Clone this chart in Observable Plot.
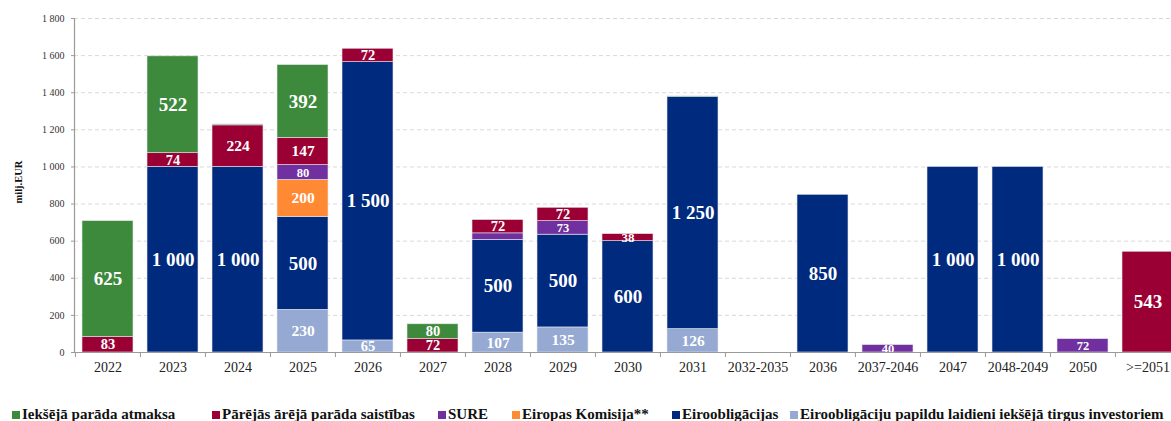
<!DOCTYPE html>
<html>
<head>
<meta charset="utf-8">
<script src="https://cdn.jsdelivr.net/npm/d3@7"></script>
<script src="https://cdn.jsdelivr.net/npm/@observablehq/plot@0.6"></script>
<style>
  html, body { margin: 0; padding: 0; background: #fff; overflow: hidden; }
  #wrap { position: relative; width: 1171px; height: 421px; overflow: hidden; }
  #legend { position: absolute; left: 0; top: 406px; width: 1171px; height: 16px;
            font-family: "Liberation Serif", "Times New Roman", serif; font-weight: bold; font-size: 15px;
            color: #111; }
  .item { position: absolute; top: 0; white-space: nowrap; line-height: 16px; }
  .sw { display: inline-block; width: 8px; height: 8px; margin-right: 2px; vertical-align: 0px; }
</style>
</head>
<body>
<div id="wrap"><div id="chart"></div><div id="legend"></div></div>
<script>
// ---- data ----
const categories = ["2022","2023","2024","2025","2026","2027","2028","2029","2030","2031","2032-2035","2036","2037-2046","2047","2048-2049","2050",">=2051"];
const seriesNames = [
  "Eiroobligāciju papildu laidieni iekšējā tirgus investoriem",
  "Eiroobligācijas",
  "Eiropas Komisija**",
  "SURE",
  "Pārējās ārējā parāda saistības",
  "Iekšējā parāda atmaksa"
];
const eiroPapildu = [0, 0, 0, 230, 65, 0, 107, 135, 0, 126, 0, 0, 0, 0, 0, 0, 0];
const eiroobligacijas = [0, 1000, 1000, 500, 1500, 0, 500, 500, 600, 1250, 0, 850, 0, 1000, 1000, 0, 0];
const eiropasKomisija = [0, 0, 0, 200, 0, 0, 0, 0, 0, 0, 0, 0, 0, 0, 0, 0, 0];
const sure = [0, 0, 0, 80, 0, 0, 35, 73, 0, 0, 0, 0, 40, 0, 0, 72, 0];
const parejasArejas = [83, 74, 224, 147, 72, 72, 72, 72, 38, 0, 0, 0, 0, 0, 0, 0, 543];
const ieksejaisParads = [625, 522, 5, 392, 0, 80, 0, 0, 0, 4, 0, 0, 0, 0, 0, 0, 0];
const yTicks = [0, 200, 400, 600, 800, 1000, 1200, 1400, 1600, 1800];
const yTitle = "milj.EUR";

// ---- styles ----
const colors = ["#95a9d2", "#002a7e", "#ff8a33", "#7030a0", "#9a0033", "#3e8a3c"];
const legendOrder = [5, 4, 3, 2, 1, 0];
const legendLeft = [12, 212, 438, 512, 672, 790];

// ---- build stacked table ----
const seriesValues = [eiroPapildu, eiroobligacijas, eiropasKomisija, sure, parejasArejas, ieksejaisParads];
const rows = [];
categories.forEach((c, i) => {
  let base = 0;
  seriesValues.forEach((vals, s) => {
    const v = vals[i];
    if (v > 0) {
      rows.push({cat: c, series: seriesNames[s], v, y1: base, y2: base + v, mid: base + v / 2});
      base += v;
    }
  });
});

const loc = d3.formatLocale({decimal: ",", thousands: "\u00a0", grouping: [3], currency: ["", ""]});
const fmt = loc.format(",d");

const W = 1171, H = 388, mL = 74, mR = -10, mT = 18, mB = 36;
const step = (W - mL - mR) / categories.length;

function labelSize(d) {
  if (d.series === "SURE") return 12.5;
  if (d.v >= 300) return 19;
  if (d.v >= 100) return 15.5;
  if (d.v >= 60) return 14.5;
  return 13;
}

const serif = "Liberation Serif, Times New Roman, serif";

const chart = Plot.plot({
  width: W, height: H,
  marginLeft: mL, marginRight: mR, marginTop: mT, marginBottom: mB,
  style: {fontFamily: serif, background: "white"},
  x: {domain: categories, paddingInner: 0.22, paddingOuter: 0.11, label: null},
  y: {domain: [0, 1800], label: null},
  color: {domain: seriesNames, range: colors},
  marks: [
    Plot.ruleY(yTicks.filter(d => d > 0), {y: d => d, stroke: "#d9d9d9", strokeDasharray: "4,3", strokeWidth: 1}),
    Plot.rectY(rows, {x: "cat", y1: "y1", y2: "y2", fill: "series", stroke: "#e6e6ee", strokeWidth: 0.6}),
    Plot.text(rows.filter(d => d.v >= 38), {
      x: "cat", y: "mid", text: d => fmt(d.v), fill: "white",
      fontWeight: "bold", fontSize: labelSize, fontFamily: serif
    }),
    Plot.ruleY([0], {stroke: "#9a9a9a", strokeWidth: 1.2}),
    Plot.frame({anchor: "left", stroke: "#9a9a9a", strokeWidth: 1.2}),
    Plot.axisY({ticks: yTicks, tickSize: 3, tickPadding: 7, tickFormat: fmt, fontSize: 10, stroke: "#9a9a9a", fill: "#333", label: null}),
    Plot.axisX({tickSize: 5, tickFormat: () => "", dx: -step / 2, stroke: "#9a9a9a", label: null}),
    Plot.axisX({tickSize: 0, tickPadding: 10, fontSize: 14, fill: "#222", label: null}),
    Plot.text([yTitle], {frameAnchor: "left", dx: -56, dy: 18, rotate: -90, fontWeight: "bold", fontSize: 10.5, fill: "#111", fontFamily: serif})
  ]
});
document.getElementById("chart").appendChild(chart);

const legend = document.getElementById("legend");
legendOrder.forEach((s, k) => {
  const it = document.createElement("div");
  it.className = "item";
  it.style.left = legendLeft[k] + "px";
  const sw = document.createElement("span");
  sw.className = "sw";
  sw.style.background = colors[s];
  it.appendChild(sw);
  it.appendChild(document.createTextNode(seriesNames[s]));
  legend.appendChild(it);
});
</script>
</body>
</html>
